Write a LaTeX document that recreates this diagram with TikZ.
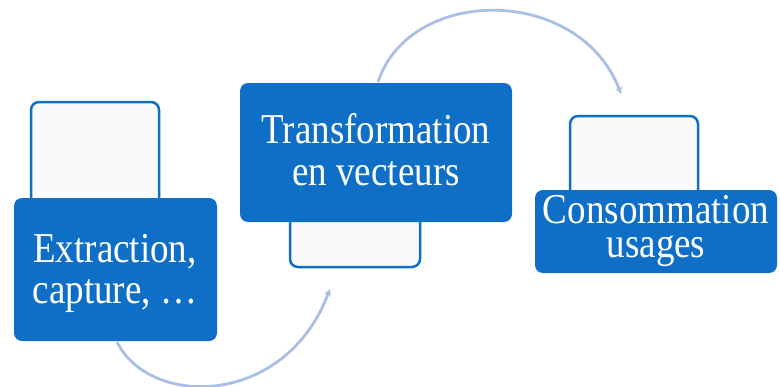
\documentclass[tikz,border=0pt]{standalone}
\usepackage{fontspec}
\setmainfont{Liberation Serif}
\usetikzlibrary{arrows.meta}
\definecolor{boxblue}{HTML}{0F6FC6}
\definecolor{arcblue}{HTML}{A9BFE5}
\definecolor{paleback}{HTML}{FAFAFA}
\newcommand{\tallfont}[1]{\scalebox{1}[1.15]{#1}}
\tikzset{
  bluebox/.style={draw=none, fill=boxblue, rounded corners=8pt, inner sep=0pt},
  whitebox/.style={draw=boxblue, line width=2.5pt, fill=paleback, rounded corners=8pt, inner sep=0pt},
  lbl/.style={text=white, inner sep=0pt, anchor=base, font=\fontsize{37}{44}\selectfont},
  flow/.style={draw=arcblue, line width=2.8pt, -{Stealth[length=7pt,width=7pt]}}
}
\begin{document}
\begin{tikzpicture}[x=1pt,y=-1pt]
\useasboundingbox (0,0) rectangle (780,386);
% flow arcs
\coordinate (a1s) at (117,342);
\coordinate (a1e) at (330,289);
\coordinate (a2s) at (378,82);
\coordinate (a2e) at (621,94);
\draw[flow] (a1s) .. controls (150,408) and (285,408) .. (a1e);
\draw[flow] (a2s) .. controls (410,-15) and (580,-15) .. (a2e);
% step 1
\node[whitebox, minimum width=128pt, minimum height=108pt] (w1) at (95,156) {};
\node[bluebox, minimum width=203pt, minimum height=143pt] (b1) at (115.5,269.5) {};
\node[lbl] (t1a) at (115,262) {\tallfont{Extraction,}};
\node[lbl] (t1b) at (115,303) {\tallfont{capture, …}};
% step 2
\node[whitebox, minimum width=130pt, minimum height=60pt] (w2) at (355,237) {};
\node[bluebox, minimum width=272pt, minimum height=139pt] (b2) at (376,152.5) {};
\node[lbl] (t2a) at (376,143) {\tallfont{Transformation}};
\node[lbl] (t2b) at (376,185) {\tallfont{en vecteurs}};
% step 3
\node[whitebox, minimum width=128pt, minimum height=84pt] (w3) at (634,158) {};
\node[bluebox, minimum width=242pt, minimum height=83pt] (b3) at (656,231.5) {};
\node[lbl] (t3a) at (656,223) {\tallfont{Consommation}};
\node[lbl] (t3b) at (656,257) {\tallfont{usages}};
\end{tikzpicture}
\end{document}
